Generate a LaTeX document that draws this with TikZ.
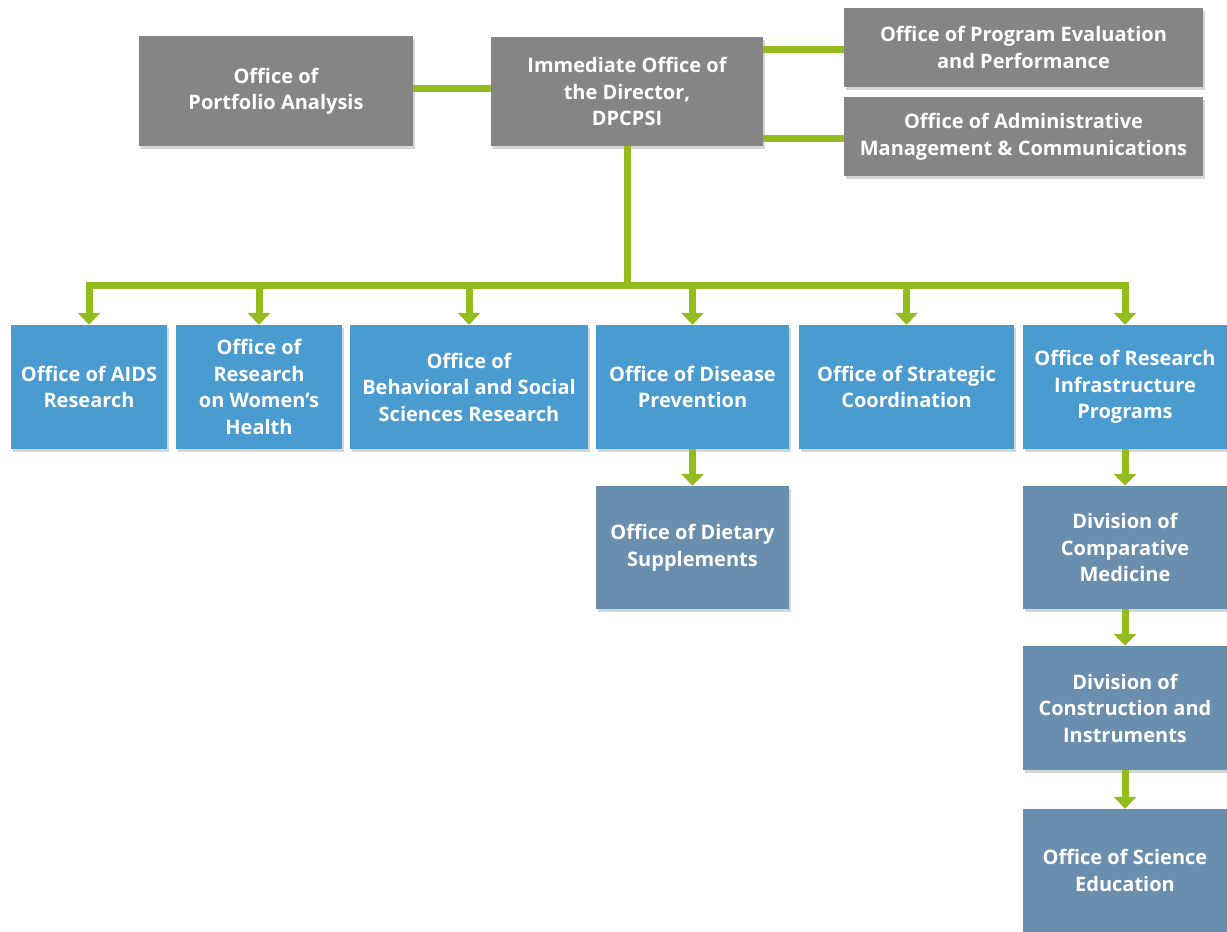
\documentclass[tikz,border=0pt]{standalone}
\usepackage{fontspec}
\setmainfont{Open Sans}
\usetikzlibrary{arrows.meta,shadows}
\definecolor{boxgray}{HTML}{858585}
\definecolor{boxblue}{HTML}{4A9BD0}
\definecolor{boxslate}{HTML}{6A8EAD}
\definecolor{lime}{HTML}{95BC1E}
\begin{document}
\begin{tikzpicture}[x=1pt,y=-1pt,
  box/.style={draw=none, text=white, font=\bfseries\fontsize{20}{26.5}\selectfont,
    align=center, inner sep=0pt, anchor=center,
    drop shadow={shadow xshift=1.5pt, shadow yshift=-3pt, fill=black, opacity=0.16}},
  graybox/.style={box, fill=boxgray},
  bluebox/.style={box, fill=boxblue, minimum height=124pt},
  slatebox/.style={box, fill=boxslate, minimum height=123pt},
  link/.style={draw=lime, line width=7pt},
  arr/.style={link, -{Triangle[width=22pt,length=12pt]}}]
\useasboundingbox (0,0) rectangle (1227,932);
\fill[white] (0,0) rectangle (1227,932);

% top row
\node[graybox, minimum width=274pt, minimum height=110pt] (pa) at (276,91) {Office of\\Portfolio Analysis};
\node[graybox, minimum width=272pt, minimum height=109pt] (io) at (627,91.5) {Immediate Office of\\the Director,\\DPCPSI};
\node[graybox, minimum width=359pt, minimum height=79pt] (pe) at (1023.5,47.5) {Office of Program Evaluation\\and Performance};
\node[graybox, minimum width=359pt, minimum height=79pt] (am) at (1023.5,136.5) {Office of Administrative\\Management \& Communications};

% second row
\node[bluebox, minimum width=156pt] (aids) at (89,387) {Office of AIDS\\Research};
\node[bluebox, minimum width=166pt] (wh) at (259,387) {Office of\\Research\\on Women’s\\Health};
\node[bluebox, minimum width=238pt] (bs) at (469,387) {Office of\\Behavioral and Social\\Sciences Research};
\node[bluebox, minimum width=193pt] (dp) at (692.5,387) {Office of Disease\\Prevention};
\node[bluebox, minimum width=215pt] (sc) at (906.5,387) {Office of Strategic\\Coordination};
\node[bluebox, minimum width=204pt] (ri) at (1125,387) {Office of Research\\Infrastructure\\Programs};

% lower boxes
\node[slatebox, minimum width=193pt] (ds) at (692.5,547.5) {Office of Dietary\\Supplements};
\node[slatebox, minimum width=204pt] (cm) at (1125,547.5) {Division of\\Comparative\\Medicine};
\node[slatebox, minimum width=204pt, minimum height=124pt] (ci) at (1125,708) {Division of\\Construction and\\Instruments};
\node[slatebox, minimum width=204pt] (se) at (1125,870.5) {Office of Science\\Education};

% connectors
\coordinate (bus) at (627,285);
\draw[link] (pa.east |- 0,88) -- (io.west |- 0,88);
\draw[link] (io.east |- 0,49) -- (pe.west |- 0,49);
\draw[link] (io.east |- 0,138) -- (am.west |- 0,138);
\draw[link] (io.south) -- (bus);
\draw[link, line cap=rect] (aids.north |- bus) -- (ri.north |- bus);
\foreach \n in {aids,wh,bs,dp,sc,ri}
  \draw[arr] (\n.north |- bus) -- (\n.north);
\draw[arr] (dp.south) -- (ds.north);
\draw[arr] (ri.south) -- (cm.north);
\draw[arr] (cm.south) -- (ci.north);
\draw[arr] (ci.south) -- (se.north);
\end{tikzpicture}
\end{document}
